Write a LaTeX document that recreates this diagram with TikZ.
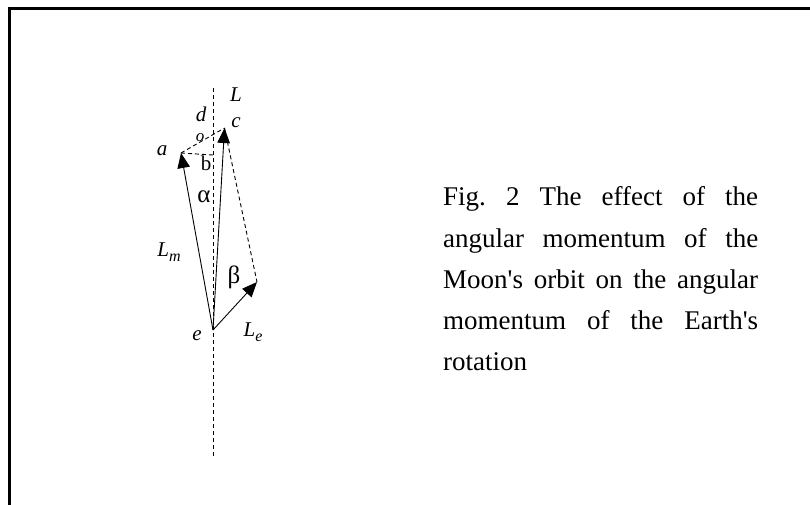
\documentclass[tikz,border=0pt]{standalone}
\usepackage{fontspec}
\setmainfont{Liberation Serif}[Ligatures=TeXOff]
\usetikzlibrary{arrows.meta,positioning}
\frenchspacing
\newcommand{\lsub}[1]{\raisebox{-4.5pt}{\fontsize{16}{17}\selectfont #1}}

\begin{document}
\begin{tikzpicture}[x=1pt, y=1pt,
    vec/.style={-{Triangle[length=15pt,width=12.5pt]}, line width=0.9pt},
    guide/.style={dash pattern=on 4pt off 3pt, line width=0.9pt},
    lbl/.style={inner sep=0pt, font=\fontsize{21}{23}\selectfont\itshape},
    greek/.style={inner sep=0pt, font=\fontsize{25}{27}\selectfont},
    caption/.style={anchor=north west, inner sep=0pt, text width=315pt, align=justify, font=\fontsize{27}{41.3}\selectfont}]
  \useasboundingbox (0,0) rectangle (810,-504);
  \draw[line width=2.6pt] (9.7,-540) -- (9.7,-8.6) -- (850,-8.6);
  \coordinate (e)    at (213,-330);
  \coordinate (a)    at (181,-153);
  \coordinate (c)    at (224.5,-128);
  \coordinate (le)   at (257,-282);
  \coordinate (top)  at (213,-88);
  \coordinate (bot)  at (213,-458);
  \coordinate (foot) at (213,-155);
  \draw[guide] (top) -- (bot);
  \draw[guide] (a) -- (c);
  \draw[guide] (a) -- (foot);
  \draw[guide] (c) -- (le);
  \draw[vec] (e) -- (a);
  \draw[vec] (e) -- (c);
  \draw[vec] (e) -- (le);
  \node[lbl] (Llab)  at (236,-95)  {L};
  \node[lbl] (dlab)  at (201,-114.5) {d};
  \node[lbl, font=\fontsize{17}{18}\selectfont\itshape] (olab) at (200,-137.5) {o};
  \node[lbl] (clab)  at (236,-123) {c};
  \node[lbl] (alab)  at (162,-151) {a};
  \node[greek, font=\fontsize{21}{23}\selectfont] (blab) at (206,-163) {b};
  \node[greek] (alpha) at (204,-197) {α};
  \node[lbl] (Lmlab) at (169,-252) {L\lsub{m}};
  \node[greek] (beta)  at (234,-277) {β};
  \node[lbl] (Lelab) at (253,-332) {L\lsub{e}};
  \node[lbl] (elab)  at (197,-336) {e};
  \node[caption] (cap) at (443,-186.5) {Fig. 2 The effect of the\linebreak
    angular momentum of the\linebreak
    Moon's orbit on the angular\linebreak
    momentum of the Earth's\linebreak
    rotation};
\end{tikzpicture}
\end{document}
